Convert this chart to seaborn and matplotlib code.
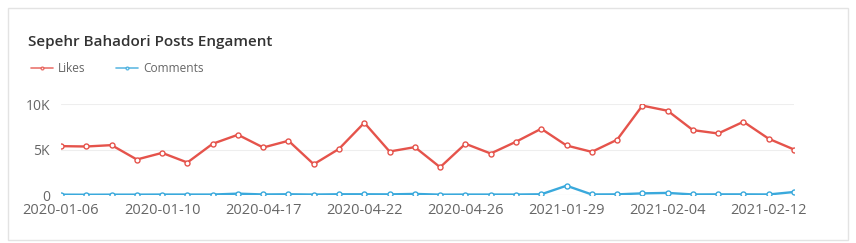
import matplotlib
matplotlib.use("Agg")
import matplotlib.pyplot as plt
import seaborn as sns
import pandas as pd
from matplotlib.patches import Rectangle
from matplotlib.ticker import FuncFormatter
from matplotlib.lines import Line2D

likes = [5370, 5330, 5480, 3900, 4630, 3570, 5630, 6620, 5220, 5960,
         3380, 5070, 7940, 4780, 5260, 3050, 5630, 4560, 5850, 7280,
         5440, 4740, 6070, 9820, 9260, 7130, 6760, 8050, 6180, 5000]
comments = [40, 30, 40, 40, 50, 50, 50, 150, 60, 80,
            50, 80, 80, 70, 120, 40, 50, 50, 50, 80,
            1020, 60, 70, 180, 230, 60, 70, 70, 60, 330]
tick_labels = ["2020-01-06", "2020-01-10", "2020-04-17", "2020-04-22",
               "2020-04-26", "2021-01-29", "2021-02-04", "2021-02-12"]
series_names = ["Likes", "Comments"]
colors = ["#e5534b", "#3aa9dc"]

df = pd.DataFrame({"idx": list(range(len(likes))) * 2,
                   "value": likes + comments,
                   "series": [series_names[0]] * len(likes) + [series_names[1]] * len(comments)})

sns.set_theme(style="white")
plt.rcParams['font.family'] = ['Open Sans', 'DejaVu Sans']

fig = plt.figure(figsize=(8.56, 2.43), dpi=100)
fig.patches.append(Rectangle((8 / 856, 3 / 243), 840 / 856, 232 / 243, transform=fig.transFigure,
                             fill=False, edgecolor="#e3e3e3", linewidth=1))
ax = fig.add_axes([61 / 856, 48 / 243, 733 / 856, 91 / 243])

sns.lineplot(data=df, x="idx", y="value", hue="series", palette=colors, ax=ax,
             linewidth=1.7, marker="o", markersize=3.6, markerfacecolor="white",
             markeredgewidth=1.0, legend=False)
for ln, c in zip(ax.lines, colors):
    ln.set_markeredgecolor(c)

ax.set_xlim(0, len(likes) - 1)
ax.set_ylim(0, 10000)
ax.set_yticks([0, 5000, 10000])
ax.yaxis.set_major_formatter(FuncFormatter(lambda v, p: "0" if v == 0 else f"{int(v/1000)}K"))
ax.set_xticks(list(range(0, len(likes), 4)))
ax.set_xticklabels(tick_labels)
ax.tick_params(axis="both", length=0, labelsize=10, colors="#666666")
ax.tick_params(axis="x", pad=6, labelsize=10.5)
ax.tick_params(axis="y", pad=8)
ax.set_xlabel("")
ax.set_ylabel("")
ax.grid(axis="y", color="#eeeeee", linewidth=0.8)
ax.set_axisbelow(True)
for s in ax.spines.values():
    s.set_visible(False)
ax.axhline(0, color="#dddddd", linewidth=0.8, zorder=0)

fig.text(28 / 856, 1 - 42 / 243, "Sepehr Bahadori Posts Engament", fontsize=11,
         color="#333333", va="center", ha="left", fontweight="semibold")

handles = [Line2D([], [], color=c, linewidth=1.2, marker="o", markersize=2,
                  markerfacecolor="white", markeredgecolor=c, alpha=0.8) for c in colors]
fig.legend(handles, series_names, loc="center left", bbox_to_anchor=(20 / 856, 1 - 69 / 243),
           ncol=2, frameon=False, fontsize=8.6, labelcolor="#666666", handlelength=1.9,
           handletextpad=0.4, columnspacing=2.5)

fig.savefig("out.png", dpi=100)
